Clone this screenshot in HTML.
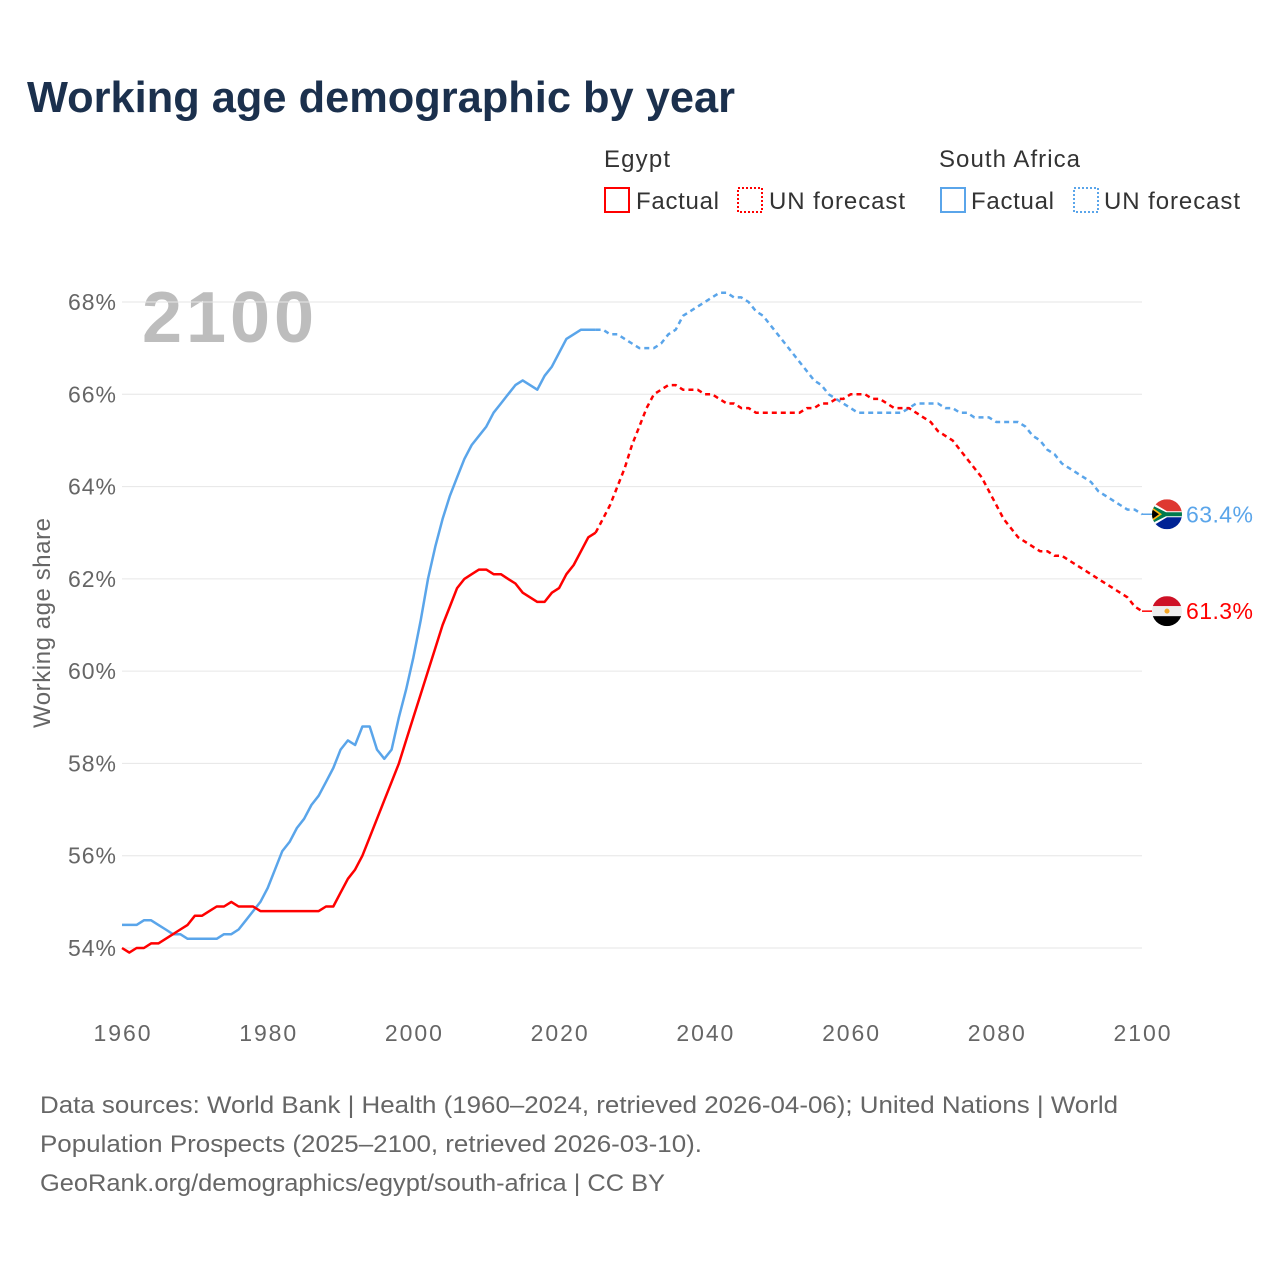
<!DOCTYPE html>
<html><head><meta charset="utf-8"><style>
body{margin:0;background:#fff;font-family:"Liberation Sans",sans-serif;}
svg text{font-family:"Liberation Sans",sans-serif;}
</style></head><body>
<svg id="chart" width="1280" height="1280">
<text x="27" y="112" font-size="44" font-weight="bold" fill="#1b304d" textLength="708" lengthAdjust="spacingAndGlyphs">Working age demographic by year</text>
<g>
<text x="604" y="167" font-size="24" fill="#333" textLength="66">Egypt</text>
<text x="939" y="167" font-size="24" fill="#333" textLength="141">South Africa</text>
<rect x="605" y="188" width="24" height="24" fill="none" stroke="#ff0000" stroke-width="2"/>
<text x="636" y="209" font-size="24" fill="#333" textLength="83">Factual</text>
<rect x="738" y="188" width="24" height="24" fill="none" stroke="#ff0000" stroke-width="2" stroke-dasharray="2,2"/>
<text x="769" y="209" font-size="24" fill="#333" textLength="136">UN forecast</text>
<rect x="941" y="188" width="24" height="24" fill="none" stroke="#5aa5ea" stroke-width="2"/>
<text x="971" y="209" font-size="24" fill="#333" textLength="83">Factual</text>
<rect x="1074" y="188" width="24" height="24" fill="none" stroke="#5aa5ea" stroke-width="2" stroke-dasharray="2,2"/>
<text x="1104" y="209" font-size="24" fill="#333" textLength="136">UN forecast</text>
</g>
<text x="142" y="342" font-size="72" font-weight="bold" fill="#bdbdbd" textLength="172">2100</text>
<text transform="translate(50,623) rotate(-90)" text-anchor="middle" font-size="24" fill="#666" textLength="210">Working age share</text>
<g id="grid"></g><g id="lines"></g><g id="ends"></g>
<text x="40" y="1113" font-size="24" fill="#666" textLength="1078" lengthAdjust="spacingAndGlyphs">Data sources: World Bank | Health (1960–2024, retrieved 2026-04-06); United Nations | World</text>
<text x="40" y="1152" font-size="24" fill="#666" textLength="662" lengthAdjust="spacingAndGlyphs">Population Prospects (2025–2100, retrieved 2026-03-10).</text>
<text x="40" y="1191" font-size="24" fill="#666" textLength="625" lengthAdjust="spacingAndGlyphs">GeoRank.org/demographics/egypt/south-africa | CC BY</text>
</svg>
<script>
const yTicks=[54,56,58,60,62,64,66,68];
const xTicks=[1960,1980,2000,2020,2040,2060,2080,2100];
const egyptFactual=[54.0,53.9,54.0,54.0,54.1,54.1,54.2,54.3,54.4,54.5,54.7,54.7,54.8,54.9,54.9,55.0,54.9,54.9,54.9,54.8,54.8,54.8,54.8,54.8,54.8,54.8,54.8,54.8,54.9,54.9,55.2,55.5,55.7,56.0,56.4,56.8,57.2,57.6,58.0,58.5,59.0,59.5,60.0,60.5,61.0,61.4,61.8,62.0,62.1,62.2,62.2,62.1,62.1,62.0,61.9,61.7,61.6,61.5,61.5,61.7,61.8,62.1,62.3,62.6,62.9,63.0];
const egyptForecast=[63.0,63.3,63.6,64.0,64.4,64.9,65.3,65.7,66.0,66.1,66.2,66.2,66.1,66.1,66.1,66.0,66.0,65.9,65.8,65.8,65.7,65.7,65.6,65.6,65.6,65.6,65.6,65.6,65.6,65.7,65.7,65.8,65.8,65.9,65.9,66.0,66.0,66.0,65.9,65.9,65.8,65.7,65.7,65.7,65.6,65.5,65.4,65.2,65.1,65.0,64.8,64.6,64.4,64.2,63.9,63.6,63.3,63.1,62.9,62.8,62.7,62.6,62.6,62.5,62.5,62.4,62.3,62.2,62.1,62.0,61.9,61.8,61.7,61.6,61.4,61.3];
const saFactual=[54.5,54.5,54.5,54.6,54.6,54.5,54.4,54.3,54.3,54.2,54.2,54.2,54.2,54.2,54.3,54.3,54.4,54.6,54.8,55.0,55.3,55.7,56.1,56.3,56.6,56.8,57.1,57.3,57.6,57.9,58.3,58.5,58.4,58.8,58.8,58.3,58.1,58.3,59.0,59.6,60.3,61.1,62.0,62.7,63.3,63.8,64.2,64.6,64.9,65.1,65.3,65.6,65.8,66.0,66.2,66.3,66.2,66.1,66.4,66.6,66.9,67.2,67.3,67.4,67.4,67.4];
const saForecast=[67.4,67.4,67.3,67.3,67.2,67.1,67.0,67.0,67.0,67.1,67.3,67.4,67.7,67.8,67.9,68.0,68.1,68.2,68.2,68.1,68.1,68.0,67.8,67.7,67.5,67.3,67.1,66.9,66.7,66.5,66.3,66.2,66.0,65.9,65.8,65.7,65.6,65.6,65.6,65.6,65.6,65.6,65.6,65.7,65.8,65.8,65.8,65.8,65.7,65.7,65.6,65.6,65.5,65.5,65.5,65.4,65.4,65.4,65.4,65.3,65.1,65.0,64.8,64.7,64.5,64.4,64.3,64.2,64.1,63.9,63.8,63.7,63.6,63.5,63.5,63.4];
const factualStart=1960, forecastStart=2025;
const NS='http://www.w3.org/2000/svg';
const X=y=>122+(y-1960)*(1020/140);
const Y=v=>302+(68-v)*(646/14);
const grid=document.getElementById('grid');
yTicks.forEach(t=>{
 const l=document.createElementNS(NS,'line');
 l.setAttribute('x1',122);l.setAttribute('x2',1142);l.setAttribute('y1',Y(t));l.setAttribute('y2',Y(t));
 l.setAttribute('stroke','#e6e6e6');l.setAttribute('stroke-width','1');
 
 
 grid.appendChild(l);
 const tx=document.createElementNS(NS,'text');
 tx.setAttribute('x',116);tx.setAttribute('y',Y(t)+8);tx.setAttribute('text-anchor','end');
 tx.setAttribute('font-size','23');tx.setAttribute('fill','#666');tx.setAttribute('textLength','48');tx.textContent=t+'%';
 
 
 grid.appendChild(tx);
});
xTicks.forEach(t=>{
 const tx=document.createElementNS(NS,'text');
 tx.setAttribute('x',X(t));tx.setAttribute('y',1041);tx.setAttribute('text-anchor','middle');
 tx.setAttribute('font-size','23');tx.setAttribute('fill','#666');tx.setAttribute('textLength','57');tx.textContent=t;
 
 
 grid.appendChild(tx);
});
const lines=document.getElementById('lines');
function draw(arr,start,color,dash,name){
 const p=document.createElementNS(NS,'path');
 p.setAttribute('d',arr.map((v,i)=>(i?'L':'M')+X(start+i).toFixed(1)+','+Y(v).toFixed(1)).join(''));
 p.setAttribute('fill','none');p.setAttribute('stroke',color);p.setAttribute('stroke-width','2.5');
 p.setAttribute('stroke-linejoin','round');
 if(dash)p.setAttribute('stroke-dasharray','5,4');
 
 
 lines.appendChild(p);
}
draw(saFactual,factualStart,'#5aa5ea',false,'south-africa-factual-line');
draw(saForecast,forecastStart,'#5aa5ea',true,'south-africa-forecast-line');
draw(egyptFactual,factualStart,'#ff0000',false,'egypt-factual-line');
draw(egyptForecast,forecastStart,'#ff0000',true,'egypt-forecast-line');
const ends=document.getElementById('ends');
function endLabel(v,color,name,kind){
 const cx=1167,cy=Y(v);
 const g=document.createElementNS(NS,'g');
 
 
 const id='clip'+name;
 let s=`<line x1="${X(2100)}" x2="${cx-15}" y1="${cy}" y2="${cy}" stroke="${color}" stroke-width="1.5"/><clipPath id="${id}"><circle cx="${cx}" cy="${cy}" r="15"/></clipPath><g clip-path="url(#${id})">`;
 if(kind==='eg'){
  s+=`<rect x="${cx-15}" y="${cy-15}" width="30" height="10" fill="#ce1126"/><rect x="${cx-15}" y="${cy-5}" width="30" height="10" fill="#eee"/><rect x="${cx-15}" y="${cy+5}" width="30" height="10" fill="#000"/><circle cx="${cx}" cy="${cy}" r="2.5" fill="#f5a623"/>`;
 }else{
  s+=`<rect x="${cx-15}" y="${cy-15}" width="30" height="15" fill="#de3831"/><rect x="${cx-15}" y="${cy}" width="30" height="15" fill="#002395"/><path d="M${cx-15},${cy-12}L${cx},${cy-3}H${cx+15}V${cy+3}H${cx}L${cx-15},${cy+12}Z" fill="#fff"/><path d="M${cx-15},${cy-9}L${cx-1},${cy-2}H${cx+15}V${cy+2}H${cx-1}L${cx-15},${cy+9}Z" fill="#007a4d"/><path d="M${cx-15},${cy-7}L${cx-5},${cy}L${cx-15},${cy+7}Z" fill="#ffb612"/><path d="M${cx-15},${cy-5}L${cx-8},${cy}L${cx-15},${cy+5}Z" fill="#000"/>`;
 }
 s+='</g>';
 g.innerHTML=s;
 ends.appendChild(g);
 const t=document.createElementNS(NS,'text');
 t.setAttribute('x',1186);t.setAttribute('y',cy+8);t.setAttribute('font-size','23');t.setAttribute('fill',color);
 t.setAttribute('textLength','67');
 t.textContent=v.toFixed(1)+'%';
 
 
 ends.appendChild(t);
}
endLabel(saForecast[saForecast.length-1],'#5aa5ea','south-africa','sa');
endLabel(egyptForecast[egyptForecast.length-1],'#ff0000','egypt','eg');
</script>
</body></html>
